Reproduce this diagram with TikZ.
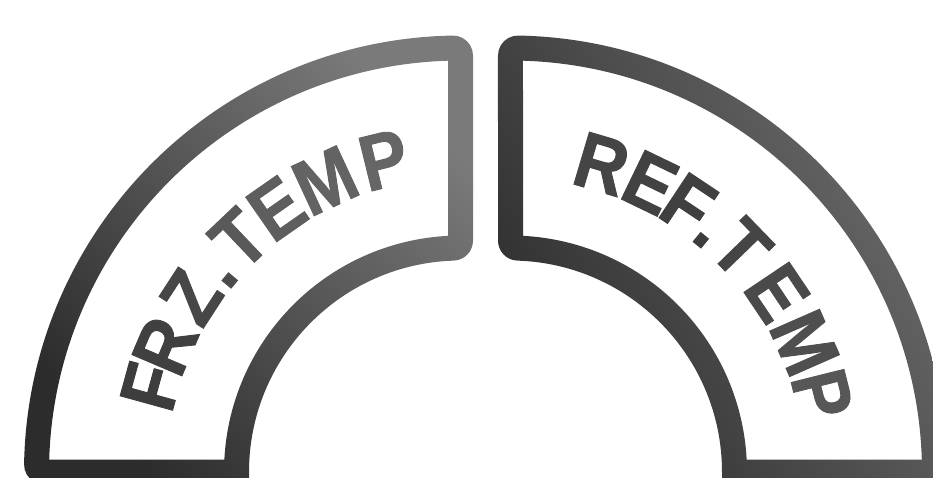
\documentclass[tikz,border=0pt]{standalone}
\usepackage{fontspec}
\setmainfont{Liberation Sans}
\newfontfamily\heavyfont{Liberation Sans Bold}[FakeBold=1.2]
\definecolor{ringLlight}{HTML}{7A7A7A}
\definecolor{ringLdark}{HTML}{2C2C2C}
\definecolor{ringRlight}{HTML}{6C6C6C}
\definecolor{ringRdark}{HTML}{2E2E2E}
\newcommand\putletter[4]{%
  \node[lettr, text=#3, rotate=#2-90, xscale=0.9] (#1) at (#2:294) {#4};}
\begin{document}
\begin{tikzpicture}[x=1pt,y=1pt,
  lettr/.style={anchor=base, inner sep=0pt, font=\fontsize{79}{79}\heavyfont}]
\useasboundingbox (0,0) rectangle (933,477);
\fill[white] (0,0) rectangle (933,477);
% ---------- left button (FRZ.TEMP)
\begin{scope}[shift={(460.5,5)}]
  \shade[even odd rule, top color=ringLlight, bottom color=ringLdark, shading angle=-45]
    (-211.5,-12.5) -- (-416.43,-12.5)
      arc[start angle=270,end angle=178.97,radius=20]
      arc[start angle=178.97,end angle=91.03,radius=436.5]
      arc[start angle=91.03,end angle=0,radius=20]
      -- (12.5,231.38)
      arc[start angle=0,end angle=-88.14,radius=20]
      arc[start angle=91.86,end angle=180,radius=211.5] -- cycle
    (178.26:411.5) arc[start angle=178.26,end angle=91.74,radius=411.5]
      -- (93.03:236.5) arc[start angle=93.03,end angle=176.97,radius=236.5] -- cycle;
  \putletter{fF}{164.6}{black!76}{F}
  \putletter{fR}{156.9}{black!75}{R}
  \putletter{fZ}{147.0}{black!72}{Z}
  \putletter{fD}{140.3}{black!70}{.}
  \putletter{fT}{133.5}{black!65}{T}
  \putletter{fE}{124.9}{black!63}{E}
  \putletter{fM}{114.9}{black!61}{M}
  \putletter{fP}{103.8}{black!60}{P}
\end{scope}
% ---------- right button (REF.TEMP)
\begin{scope}[shift={(510.5,5)}]
  \begin{scope}[xscale=-1]
  \shade[even odd rule, top color=ringRlight, bottom color=ringRdark, shading angle=-60]
    (-211.5,-12.5) -- (-416.43,-12.5)
      arc[start angle=270,end angle=178.97,radius=20]
      arc[start angle=178.97,end angle=91.03,radius=436.5]
      arc[start angle=91.03,end angle=0,radius=20]
      -- (12.5,231.38)
      arc[start angle=0,end angle=-88.14,radius=20]
      arc[start angle=91.86,end angle=180,radius=211.5] -- cycle
    (178.26:411.5) arc[start angle=178.26,end angle=91.74,radius=411.5]
      -- (93.03:236.5) arc[start angle=93.03,end angle=176.97,radius=236.5] -- cycle;
  \end{scope}
  \putletter{rR}{73.5}{black!73}{R}
  \putletter{rE}{64.2}{black!74}{E}
  \putletter{rF}{56.4}{black!75}{F}
  \putletter{rD}{50.6}{black!76}{.}
  \putletter{rT}{44.1}{black!73}{T}
  \putletter{rE2}{33.9}{black!71}{E}
  \putletter{rM}{23.7}{black!69}{M}
  \putletter{rP}{14.0}{black!66}{P}
\end{scope}
\end{tikzpicture}
\end{document}
